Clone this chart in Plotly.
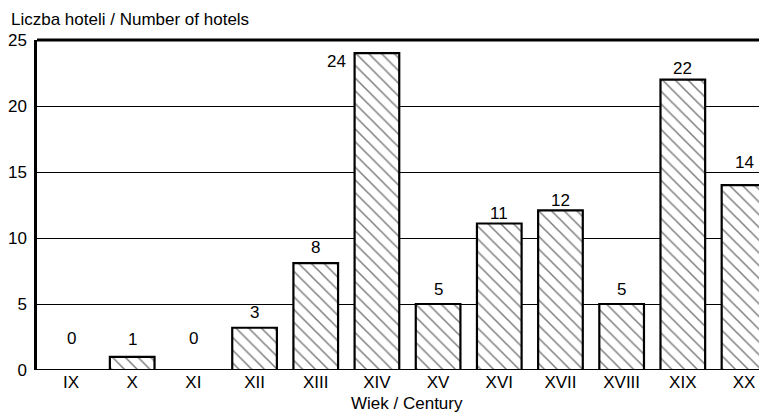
import plotly.graph_objects as go

centuries = ["IX", "X", "XI", "XII", "XIII", "XIV", "XV", "XVI", "XVII", "XVIII", "XIX", "XX"]
hotels = [0, 1, 0, 3.2, 8.1, 24, 5, 11.1, 12.1, 5, 22, 14]
labels = ["0", "1", "0", "3", "8", "24", "5", "11", "12", "5", "22", "14"]

# style: pixel offsets of value label centres relative to bar top
label_dy = [32, 17, 32, 15, 16, -8, 15, 10, 10, 15, 11.5, 22.5]
label_dx = [0, 0, 0, 0, 0, -40, 0, 0, 0, 0, 0, 0]

FONT = "Liberation Sans, Arial, sans-serif"
FS = 17

fig = go.Figure()
fig.add_trace(go.Bar(
    x=list(range(len(centuries))),
    y=hotels,
    width=0.73,
    marker=dict(
        color="white",
        line=dict(color="black", width=2.2),
        pattern=dict(shape="\\", fgcolor="black", bgcolor="white", size=9, solidity=0.17),
    ),
    hoverinfo="skip",
))

for i, (v, t) in enumerate(zip(hotels, labels)):
    fig.add_annotation(x=i, y=v, text=t, showarrow=False, xshift=label_dx[i], yshift=label_dy[i],
                       yanchor="middle", font=dict(family=FONT, size=FS, color="black"))

fig.add_annotation(xref="paper", yref="paper", x=0, y=1.0, xshift=-28, yshift=21,
                   text="Liczba hoteli / Number of hotels",
                   showarrow=False, xanchor="left", yanchor="middle",
                   font=dict(family=FONT, size=FS, color="black"))
fig.add_annotation(xref="paper", yref="paper", x=0.507, y=0, yshift=-33.5,
                   text="Wiek / Century",
                   showarrow=False, xanchor="center", yanchor="middle",
                   font=dict(family=FONT, size=FS, color="black"))

# page body has an 8px margin, so the figure is sized 8px smaller
fig.update_layout(
    width=759, height=404,
    margin=dict(l=29, r=0, t=32, b=42),
    plot_bgcolor="white", paper_bgcolor="white",
    showlegend=False,
    font=dict(family=FONT, size=FS, color="black"),
    xaxis=dict(
        range=[-0.556, 11.376], automargin=False,
        tickmode="array", tickvals=list(range(len(centuries))), ticktext=centuries,
        showgrid=False, zeroline=False, showline=False, ticks="",
        tickfont=dict(family=FONT, size=FS, color="black"),
    ),
    yaxis=dict(
        range=[0, 25], tickvals=[0, 5, 10, 15, 20, 25], automargin=False,
        showgrid=True, gridcolor="black", gridwidth=1,
        zeroline=False, showline=True, linecolor="black", linewidth=2.5, ticks="",
        ticklabelstandoff=4,
        tickfont=dict(family=FONT, size=FS, color="black"),
    ),
)

# top border and baseline
fig.add_shape(type="line", xref="paper", yref="paper", x0=0, x1=1, y0=1, y1=1,
              line=dict(color="black", width=3))
fig.add_shape(type="line", xref="paper", yref="y", x0=0, x1=1, y0=0, y1=0,
              line=dict(color="black", width=2), layer="below")

fig.write_html("out.html")
